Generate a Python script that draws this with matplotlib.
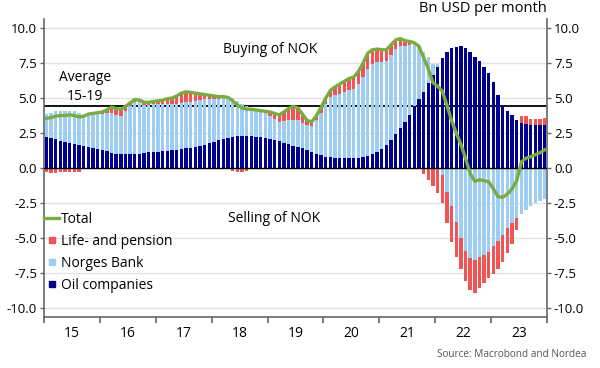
import numpy as np
import matplotlib
matplotlib.use("Agg")
import matplotlib.pyplot as plt
from matplotlib.lines import Line2D

plt.rcParams['font.family'] = ['Open Sans', 'DejaVu Sans']

# Monthly flows, Jan 2015 - Dec 2023, bn USD per month
years = ['15', '16', '17', '18', '19', '20', '21', '22', '23']

oil = [
    2.20, 2.15, 2.05, 1.95, 1.88, 1.80, 1.72, 1.65, 1.58, 1.50, 1.43, 1.35,
    1.27, 1.18, 1.10, 1.03, 0.98, 0.97, 0.97, 0.98, 1.02, 1.08, 1.12, 1.13,
    1.15, 1.18, 1.22, 1.27, 1.30, 1.35, 1.40, 1.45, 1.52, 1.58, 1.66, 1.76,
    1.86, 1.98, 2.08, 2.17, 2.24, 2.28, 2.30, 2.30, 2.28, 2.25, 2.20, 2.14,
    2.06, 1.98, 1.90, 1.80, 1.70, 1.60, 1.50, 1.40, 1.28, 1.15, 1.02, 0.90,
    0.82, 0.76, 0.72, 0.70, 0.70, 0.70, 0.70, 0.72, 0.78, 0.88, 1.00, 1.15,
    1.35, 1.65, 2.00, 2.40, 2.85, 3.30, 3.80, 4.40, 4.95, 5.45, 6.05, 6.64,
    7.24, 7.83, 8.31, 8.55, 8.67, 8.74, 8.60, 8.31, 7.95, 7.64, 7.24, 6.76,
    6.15, 5.20, 4.40, 4.05, 3.80, 3.45, 3.25, 3.15, 3.10, 3.08, 3.08, 3.10,
]

norges_bank = [
    1.65, 1.80, 2.00, 2.10, 2.17, 2.30, 2.33, 2.30, 2.07, 2.30, 2.37, 2.50,
    2.58, 2.72, 2.85, 2.77, 2.77, 3.08, 3.43, 3.77, 3.68, 3.42, 3.38, 3.42,
    3.45, 3.42, 3.38, 3.28, 3.30, 3.30, 3.30, 3.30, 3.28, 3.27, 3.24, 3.14,
    3.09, 2.97, 2.97, 2.88, 2.76, 2.52, 2.30, 2.15, 1.92, 1.85, 1.80, 1.76,
    1.69, 1.52, 1.40, 1.55, 1.70, 1.85, 1.90, 1.85, 1.77, 1.85, 2.43, 3.05,
    3.73, 4.29, 4.48, 4.60, 4.75, 4.90, 4.95, 5.28, 5.72, 6.22, 6.40, 6.40,
    6.25, 6.00, 6.05, 6.10, 5.85, 5.40, 5.00, 4.45, 3.75, 2.85, 1.90, 0.76,
    0.20, -0.50, -1.70, -2.70, -3.85, -5.00, -5.95, -6.45, -6.55, -6.35, -6.20, -6.00,
    -5.60, -5.25, -4.80, -4.30, -3.95, -3.60, -3.30, -3.00, -2.75, -2.50, -2.35, -2.20,
]

life_pension = [
    -0.30, -0.35, -0.35, -0.30, -0.30, -0.30, -0.30, -0.30, 0.05, 0.05, 0.10, 0.10,
    0.15, 0.25, 0.40, 0.45, 0.45, 0.35, 0.25, 0.15, 0.15, 0.20, 0.20, 0.20,
    0.20, 0.25, 0.35, 0.45, 0.55, 0.70, 0.75, 0.65, 0.55, 0.45, 0.35, 0.30,
    0.20, 0.15, 0.05, 0.00, -0.20, -0.30, -0.30, -0.25, 0.00, 0.05, 0.10, 0.15,
    0.25, 0.40, 0.50, 0.65, 0.85, 0.95, 0.90, 0.60, 0.35, 0.30, 0.30, 0.40,
    0.45, 0.50, 0.60, 0.70, 0.75, 0.80, 0.85, 0.90, 1.00, 1.10, 1.05, 0.95,
    0.85, 0.80, 0.75, 0.65, 0.55, 0.40, 0.25, 0.10, 0.00, -0.40, -0.85, -1.30,
    -1.80, -2.00, -2.20, -2.60, -2.50, -2.20, -2.10, -2.30, -2.40, -2.25, -2.05, -1.85,
    -2.00, -1.95, -1.90, -1.80, -1.45, -0.80, 0.50, 0.60, 0.40, 0.40, 0.45, 0.50,
]

total = [
    3.55, 3.60, 3.70, 3.75, 3.75, 3.80, 3.75, 3.65, 3.70, 3.85, 3.90, 3.95,
    4.00, 4.15, 4.35, 4.25, 4.20, 4.40, 4.65, 4.90, 4.85, 4.70, 4.70, 4.75,
    4.80, 4.85, 4.95, 5.00, 5.15, 5.35, 5.45, 5.40, 5.35, 5.30, 5.25, 5.20,
    5.15, 5.10, 5.10, 5.05, 4.80, 4.50, 4.30, 4.20, 4.20, 4.15, 4.10, 4.05,
    4.00, 3.90, 3.80, 4.00, 4.25, 4.40, 4.30, 3.85, 3.40, 3.30, 3.75, 4.35,
    5.00, 5.55, 5.80, 6.00, 6.20, 6.40, 6.50, 6.90, 7.50, 8.20, 8.45, 8.50,
    8.45, 8.45, 8.80, 9.15, 9.25, 9.10, 9.05, 8.95, 8.70, 7.90, 7.10, 6.10,
    5.85, 5.50, 4.50, 3.40, 2.50, 1.70, 0.70, -0.40, -0.95, -0.85, -0.90, -1.00,
    -1.50, -2.05, -2.10, -1.85, -1.50, -0.90, 0.45, 0.70, 0.80, 0.95, 1.10, 1.30,
]

average_15_19 = 4.43

C_OIL = '#00008f'
C_NB = '#9dcdf3'
C_LP = '#f05454'
C_TOTAL = '#7aab3e'

n = len(oil)
x = np.arange(n) + 0.5

fig = plt.figure(figsize=(6, 3.68), dpi=100)
ax = fig.add_axes([0.0733, 0.1386, 0.8384, 0.8098])

# average line sits behind the bars (shows through the gaps)
ax.axhline(average_15_19, color='black', lw=1.3, zorder=1)

# diverging stack: positives upwards, negatives downwards
pos_base = np.zeros(n)
neg_base = np.zeros(n)
for vals, color in [(oil, C_OIL), (norges_bank, C_NB), (life_pension, C_LP)]:
    v = np.array(vals)
    bottom = np.where(v >= 0, pos_base, neg_base)
    ax.bar(x, v, width=0.72, bottom=bottom, color=color, linewidth=0, zorder=2)
    pos_base += np.clip(v, 0, None)
    neg_base += np.clip(v, None, 0)

ax.axhline(0, color='black', lw=1.0, zorder=3)
ax.plot(x, total, color=C_TOTAL, lw=2.4, zorder=4, solid_joinstyle='round')

# axes
ax.set_xlim(0, n)
ax.set_ylim(-10.65, 10.65)
yt = np.arange(-10, 10.1, 2.5)
ax.set_yticks(yt)
ax.set_yticklabels([f'{v:.1f}' for v in yt])
ax.tick_params(axis='y', left=True, right=True, labelleft=True, labelright=True,
               labelsize=9.5, length=3, width=1, color='#666666', pad=2)
ax.set_xticks(np.arange(0, n + 1, 12))
ax.set_xticklabels([])
ax.set_xticks(np.arange(6, n, 12), minor=True)
ax.set_xticklabels(years, minor=True)
ax.tick_params(axis='x', which='major', length=4, width=1.2, color='#666666')
ax.tick_params(axis='x', which='minor', length=0, labelsize=10, pad=6.5)

ax.yaxis.grid(True, color='#e3e3e3', lw=1)
ax.set_axisbelow(True)
ax.spines['top'].set_visible(False)
for s in ['left', 'right', 'bottom']:
    ax.spines[s].set_color('#666666')
    ax.spines[s].set_linewidth(1.2)

# annotations
ax.text(48.5, 8.5, 'Buying of NOK', ha='center', va='center', fontsize=10)
ax.text(49.5, -3.64, 'Selling of NOK', ha='center', va='center', fontsize=10)
ax.text(8.8, 5.8, 'Average\n15-19', ha='center', va='center', fontsize=10, linespacing=1.35)

fig.text(0.912, 0.976, 'Bn USD per month', ha='right', va='center', fontsize=10.5)
fig.text(0.977, 0.038, 'Source: Macrobond and Nordea', ha='right', va='center',
         fontsize=7.2, color='#555555')

handles = [
    Line2D([0], [0], color=C_TOTAL, lw=2.4),
    Line2D([0], [0], marker='s', ls='none', color=C_LP, markersize=5),
    Line2D([0], [0], marker='s', ls='none', color=C_NB, markersize=5),
    Line2D([0], [0], marker='s', ls='none', color=C_OIL, markersize=5),
]
labels = ['Total', 'Life- and pension', 'Norges Bank', 'Oil companies']
ax.legend(handles, labels, loc='upper left', bbox_to_anchor=(0.0, 0.352), frameon=False,
          fontsize=10, handlelength=1.1, handletextpad=0.15, labelspacing=0.5,
          borderpad=0, borderaxespad=0)

fig.savefig('out.png', dpi=100)
